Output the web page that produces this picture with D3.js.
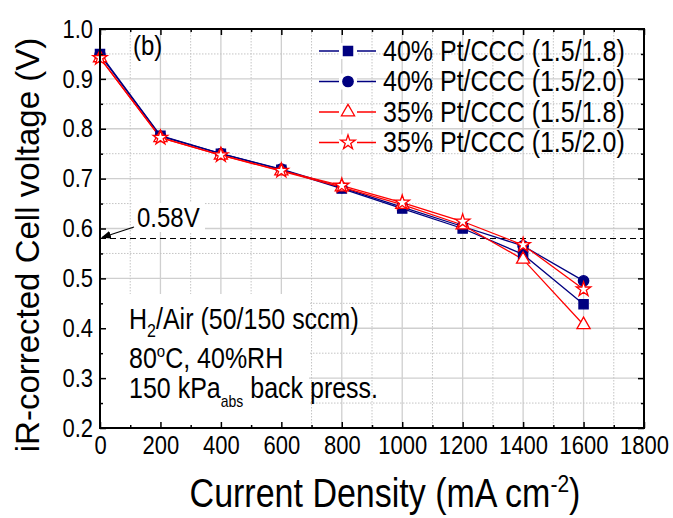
<!DOCTYPE html>
<html>
<head>
<meta charset="utf-8">
<script src="https://cdn.jsdelivr.net/npm/d3@7"></script>
<style>
  body { margin: 0; background: #fff; }
  svg text { font-family: "Liberation Sans", Arial, sans-serif; fill: #000; }
  /* the original lettering is a little taller than Arial */
  svg text.tall { transform-box: fill-box; transform-origin: center; transform: scaleY(1.15); }
  svg text.taller { transform-box: fill-box; transform-origin: center; transform: scaleY(1.17); }
</style>
</head>
<body>
<svg id="chart" width="673" height="518"></svg>
<script>
// data
const currentDensity = [0, 200, 400, 600, 800, 1000, 1200, 1400, 1600];
const pt40_18 = [0.950, 0.786, 0.750, 0.718, 0.680, 0.640, 0.600, 0.548, 0.448];
const pt40_20 = [0.948, 0.785, 0.750, 0.719, 0.682, 0.643, 0.604, 0.565, 0.495];
const pt35_18 = [0.942, 0.782, 0.747, 0.715, 0.683, 0.648, 0.607, 0.538, 0.407];
const pt35_20 = [0.942, 0.782, 0.747, 0.716, 0.686, 0.652, 0.614, 0.567, 0.478];
const seriesNames = ["40% Pt/CCC (1.5/1.8)", "40% Pt/CCC (1.5/2.0)", "35% Pt/CCC (1.5/1.8)", "35% Pt/CCC (1.5/2.0)"];

const xTicks = [0, 200, 400, 600, 800, 1000, 1200, 1400, 1600, 1800];
const xMinorTicks = [100, 300, 500, 700, 900, 1100, 1300, 1500, 1700];
const yTicks = [0.2, 0.3, 0.4, 0.5, 0.6, 0.7, 0.8, 0.9, 1.0];
const yMinorTicks = [0.25, 0.35, 0.45, 0.55, 0.65, 0.75, 0.85, 0.95];
const refVoltage = 0.58;

const navy = "#000080", red = "#ff0000";
const series = [
  { name: seriesNames[0], values: pt40_18, color: navy, symbol: d3.symbolSquare, size: 85, fill: navy },
  { name: seriesNames[1], values: pt40_20, color: navy, symbol: d3.symbolCircle, size: 85, fill: navy },
  { name: seriesNames[2], values: pt35_18, color: red, symbol: d3.symbolTriangle, size: 75, fill: "#fff" },
  { name: seriesNames[3], values: pt35_20, color: red, symbol: d3.symbolStar, size: 65, fill: "#fff" }
];

const plotLeft = 100, plotRight = 644, plotTop = 29, plotBottom = 428;
const svg = d3.select("#chart");

const x = d3.scaleLinear().domain([0, 1800]).range([plotLeft, plotRight]);
const y = d3.scaleLinear().domain([0.2, 1.0]).range([plotBottom, plotTop]);

// grid
const grid = svg.append("g");
grid.selectAll(".vmaj").data(xTicks.slice(1, -1)).enter().append("line")
  .attr("x1", d => x(d)).attr("x2", d => x(d)).attr("y1", plotTop).attr("y2", plotBottom)
  .attr("stroke", "#cfcfcf").attr("stroke-width", 1.3);
grid.selectAll(".hmaj").data(yTicks.slice(1, -1)).enter().append("line")
  .attr("y1", d => y(d)).attr("y2", d => y(d)).attr("x1", plotLeft).attr("x2", plotRight)
  .attr("stroke", "#cfcfcf").attr("stroke-width", 1.3);
grid.selectAll(".vmin").data(xMinorTicks).enter().append("line")
  .attr("x1", d => x(d)).attr("x2", d => x(d)).attr("y1", plotTop).attr("y2", plotBottom)
  .attr("stroke", "#c4c4c4").attr("stroke-width", 1).attr("stroke-dasharray", "1.5,1.5");
grid.selectAll(".hmin").data(yMinorTicks).enter().append("line")
  .attr("y1", d => y(d)).attr("y2", d => y(d)).attr("x1", plotLeft).attr("x2", plotRight)
  .attr("stroke", "#c4c4c4").attr("stroke-width", 1).attr("stroke-dasharray", "1.5,1.5");

// white box behind the conditions text
svg.append("rect").attr("x", plotLeft + 1).attr("y", 294).attr("width", 208).attr("height", plotBottom - 295)
  .attr("fill", "#fff");

// 0.58 V reference
svg.append("line")
  .attr("x1", plotLeft).attr("x2", plotRight).attr("y1", y(refVoltage)).attr("y2", y(refVoltage))
  .attr("stroke", "#000").attr("stroke-width", 1.2).attr("stroke-dasharray", "6,4");

// series lines
const line = d3.line().x((d, i) => x(currentDensity[i])).y(d => y(d));
series.forEach(s => {
  svg.append("path").datum(s.values).attr("d", line)
    .attr("fill", "none").attr("stroke", s.color).attr("stroke-width", 1.3);
});
series.forEach(s => {
  svg.append("g").selectAll("path").data(s.values).enter().append("path")
    .attr("transform", (d, i) => `translate(${x(currentDensity[i])},${y(d)})`)
    .attr("d", d3.symbol().type(s.symbol).size(s.size))
    .attr("fill", s.fill).attr("stroke", s.color).attr("stroke-width", 1.3);
});

// axes, ticks pointing in
const fs = "22px";
svg.append("g").attr("transform", `translate(0,${plotBottom})`)
  .call(d3.axisBottom(x).tickValues(xTicks).tickSize(-6).tickPadding(9).tickFormat(d3.format("d")));
svg.append("g").attr("transform", `translate(${plotLeft},0)`)
  .call(d3.axisLeft(y).tickValues(yTicks).tickSize(-6).tickPadding(7).tickFormat(d3.format(".1f")));
svg.append("g").attr("transform", `translate(0,${plotTop})`)
  .call(d3.axisTop(x).tickValues(xTicks).tickSize(-6).tickFormat(""));
svg.append("g").attr("transform", `translate(${plotRight},0)`)
  .call(d3.axisRight(y).tickValues(yTicks).tickSize(-6).tickFormat(""));
svg.append("g").attr("transform", `translate(0,${plotBottom})`)
  .call(d3.axisBottom(x).tickValues(xMinorTicks).tickSize(-3).tickFormat(""));
svg.append("g").attr("transform", `translate(0,${plotTop})`)
  .call(d3.axisTop(x).tickValues(xMinorTicks).tickSize(-3).tickFormat(""));
svg.append("g").attr("transform", `translate(${plotLeft},0)`)
  .call(d3.axisLeft(y).tickValues(yMinorTicks).tickSize(-3).tickFormat(""));
svg.append("g").attr("transform", `translate(${plotRight},0)`)
  .call(d3.axisRight(y).tickValues(yMinorTicks).tickSize(-3).tickFormat(""));
svg.selectAll(".domain").remove();
svg.selectAll(".tick line").attr("stroke", "#000").attr("stroke-width", 1.5);
svg.selectAll(".tick text").style("font-size", fs).attr("font-family", null).attr("class", "tall");

// frame
svg.append("rect").attr("x", plotLeft).attr("y", plotTop).attr("width", plotRight - plotLeft).attr("height", plotBottom - plotTop)
  .attr("fill", "none").attr("stroke", "#000").attr("stroke-width", 2);

// axis titles
const xt = svg.append("text").attr("class", "taller").attr("x", 385).attr("y", 505).attr("text-anchor", "middle")
  .style("font-size", "34px");
xt.append("tspan").text("Current Density (mA cm");
xt.append("tspan").attr("dy", -13).style("font-size", "21px").text("-2");
xt.append("tspan").attr("dy", 13).text(")");

svg.append("text").attr("transform", "rotate(-90)").attr("x", -245).attr("y", 39)
  .attr("text-anchor", "middle").style("font-size", "33px")
  .text("iR-corrected Cell voltage (V)");

// panel label
svg.append("text").attr("class", "tall").attr("x", 133).attr("y", 54).style("font-size", "24px").text("(b)");

// 0.58V label with arrow
svg.append("defs").append("marker").attr("id", "arr")
  .attr("viewBox", "0 0 10 10").attr("refX", 9).attr("refY", 5)
  .attr("markerWidth", 9).attr("markerHeight", 9).attr("orient", "auto")
  .append("path").attr("d", "M0,1 L10,5 L0,9 z").attr("fill", "#000");
svg.append("rect").attr("x", 133).attr("y", 203).attr("width", 72).attr("height", 29).attr("fill", "#fff");
svg.append("text").attr("class", "tall").attr("x", 137).attr("y", 226).style("font-size", "24px").text("0.58V");
svg.append("line").attr("x1", 134).attr("y1", 227).attr("x2", plotLeft + 2).attr("y2", y(refVoltage) - 1)
  .attr("stroke", "#000").attr("stroke-width", 1.1).attr("marker-end", "url(#arr)");

// conditions text
const c1 = svg.append("text").attr("class", "tall").attr("x", 129).attr("y", 328).style("font-size", "25px");
c1.append("tspan").text("H");
c1.append("tspan").attr("dy", 7).style("font-size", "16px").text("2");
c1.append("tspan").attr("dy", -7).text("/Air (50/150 sccm)");
const c2 = svg.append("text").attr("class", "tall").attr("x", 129).attr("y", 367).style("font-size", "25px");
c2.append("tspan").text("80");
c2.append("tspan").attr("dy", -10).style("font-size", "15px").text("o");
c2.append("tspan").attr("dy", 10).text("C, 40%RH");
const c3 = svg.append("text").attr("class", "tall").attr("x", 129).attr("y", 397).style("font-size", "25px");
c3.append("tspan").text("150 kPa");
c3.append("tspan").attr("dy", 8).style("font-size", "14px").text("abs");
c3.append("tspan").attr("dy", -8).text(" back press.");

// legend
const legend = svg.append("g");
series.forEach((s, i) => {
  const ly = 51 + i * 30.5;
  legend.append("line").attr("x1", 319).attr("x2", 376).attr("y1", ly).attr("y2", ly)
    .attr("stroke", s.color).attr("stroke-width", 1.3);
  legend.append("rect").attr("x", 339).attr("y", ly - 8).attr("width", 18).attr("height", 16).attr("fill", "#fff");
  legend.append("path").attr("transform", `translate(348,${ly})`)
    .attr("d", d3.symbol().type(s.symbol).size(s.size))
    .attr("fill", s.fill).attr("stroke", s.color).attr("stroke-width", 1.3);
  legend.append("text").attr("class", "tall").attr("x", 383).attr("y", ly).attr("dy", "0.35em")
    .style("font-size", "25px").text(s.name);
});
</script>
</body>
</html>
